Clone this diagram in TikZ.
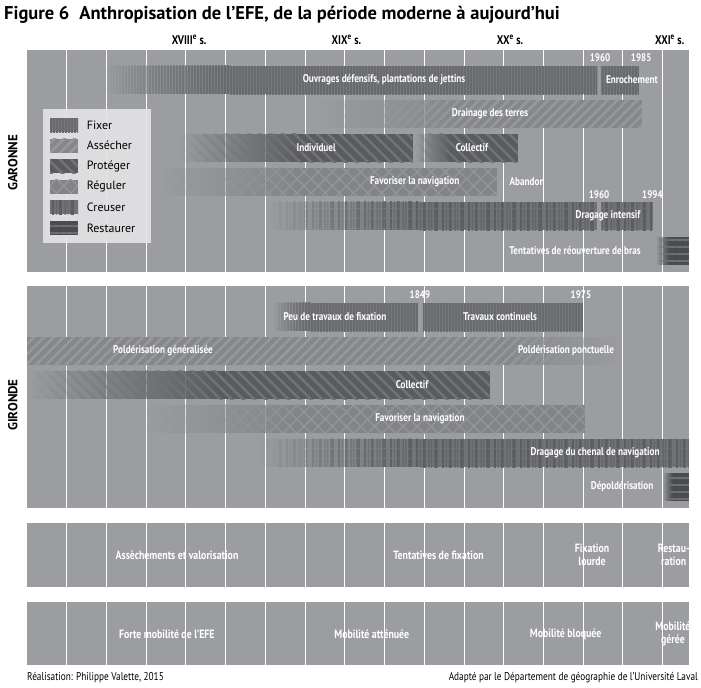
\documentclass[tikz,border=0pt]{standalone}
\usepackage{fontspec}
\setmainfont{PT Sans}[FakeStretch=0.82]
\newfontfamily\titlefont{PT Sans}
\newfontfamily\plainfont{PT Sans}
\usepackage{tikz}
\usepackage{xcolor}
\usetikzlibrary{patterns.meta,fadings,positioning}

\definecolor{panelgray}{HTML}{9C9DA1}
\definecolor{legendgray}{HTML}{E3E3E5}
\definecolor{fixbase}{HTML}{77787C}
\definecolor{fixline}{HTML}{696A6E}
\definecolor{drybase}{HTML}{86878B}
\definecolor{dryline}{HTML}{97989C}
\definecolor{protbase}{HTML}{5A5B5F}
\definecolor{protline}{HTML}{727377}
\definecolor{regbase}{HTML}{838488}
\definecolor{regline}{HTML}{95969A}
\definecolor{digbase}{HTML}{717276}
\definecolor{digline}{HTML}{5C5D61}
\definecolor{restbase}{HTML}{4B4C50}
\definecolor{restline}{HTML}{707175}

\tikzfading[name=fadein, left color=transparent!100, right color=transparent!0]
\tikzfading[name=fadeout, left color=transparent!0, right color=transparent!100]

\tikzdeclarepattern{
  name=dredge, type=uncolored,
  bottom left={(0pt,0pt)}, top right={(26pt,10pt)}, tile size={(26pt,10pt)},
  code={
    \fill (0pt,0pt) rectangle (2pt,10pt);
    \fill (4pt,0pt) rectangle (4.8pt,10pt);
    \fill (7pt,0pt) rectangle (10pt,10pt);
    \fill (13pt,0pt) rectangle (14pt,10pt);
    \fill (16pt,0pt) rectangle (16.6pt,10pt);
    \fill (19pt,0pt) rectangle (22.5pt,10pt);
  }
}

\tikzset{
  panel/.style={fill=panelgray},
  gridline/.style={white, line width=0.9pt},
  ground fixer/.style={fill=fixbase},
  hatch fixer/.style={pattern={Lines[angle=90,distance=3pt,line width=1.1pt]}, pattern color=fixline},
  ground dry/.style={fill=drybase},
  hatch dry/.style={pattern={Lines[angle=45,distance=7pt,line width=2.5pt]}, pattern color=dryline},
  ground protect/.style={fill=protbase},
  hatch protect/.style={pattern={Lines[angle=-45,distance=8pt,line width=2.5pt]}, pattern color=protline},
  ground regul/.style={fill=regbase},
  hatch regul/.style={pattern={Hatch[angle=45,distance=10pt,line width=1.3pt]}, pattern color=regline},
  ground dig/.style={fill=digbase},
  hatch dig/.style={pattern=dredge, pattern color=digline},
  ground rest/.style={fill=restbase},
  hatch rest/.style={pattern={Lines[angle=0,distance=7pt,line width=1.4pt]}, pattern color=restline},
  barlabel/.style={text=white, font=\fontsize{11.2}{12}\selectfont\bfseries, inner sep=0pt},
  yearlabel/.style={text=white, font=\fontsize{11}{12}\selectfont\bfseries, inner sep=0pt},
  phaselabel/.style={text=white, font=\fontsize{12}{13}\selectfont\bfseries, align=center, inner sep=0pt},
  century/.style={font=\fontsize{12.5}{13}\selectfont\bfseries, inner sep=0pt},
  river/.style={font=\plainfont\fontsize{13}{14}\selectfont\bfseries, rotate=90, inner sep=0pt},
  legendtext/.style={font=\plainfont\fontsize{12}{13}\selectfont, anchor=west, inner sep=0pt},
  credit/.style={font=\fontsize{11.3}{12}\selectfont, inner sep=0pt}
}

\newcommand{\fadebar}[4]{%
  \fill[ground #1, path fading=fadein] (#3,#2) rectangle (#4,#2+28);
  \fill[hatch #1, path fading=fadein] (#3,#2) rectangle (#4,#2+28);}
\newcommand{\solidbar}[4]{%
  \fill[ground #1] (#3,#2) rectangle (#4,#2+28);
  \fill[hatch #1] (#3,#2) rectangle (#4,#2+28);}
\newcommand{\fadeoutbar}[4]{%
  \fill[ground #1, path fading=fadeout] (#3,#2) rectangle (#4,#2+28);
  \fill[hatch #1, path fading=fadeout] (#3,#2) rectangle (#4,#2+28);}
\newcommand{\swatch}[2]{%
  \fill[ground #1] (1614.5,#2) rectangle (1632.1,#2+14);
  \fill[hatch #1] (1614.5,#2) rectangle (1632.1,#2+14);}

\begin{document}
\begin{tikzpicture}[x=1.589pt, y=-1pt, shift={(-1600,0)}]
  \useasboundingbox[fill=white] (1583,0) rectangle (2024.16,688);

  \node[anchor=west, inner sep=0pt, font=\titlefont\fontsize{18.5}{19}\selectfont\bfseries] (title) at (1585.5,15)
    {Figure 6\hspace{10pt}Anthropisation de l’EFE, de la période moderne à aujourd’hui};

  \foreach \yr/\txt in {1702/XVIII, 1801/XIX, 1904/XX, 2004.5/XXI}
    \node[century] (c\txt) at (\yr,40) {\txt\textsuperscript{e} s.};

  \foreach \top/\bot in {50/272, 286/508, 523/587, 602/665} {
    \fill[panel] (1600,\top) rectangle (2016.6,\bot);
    \foreach \yr in {1625,1650,...,2000}
      \draw[gridline] (\yr,\top) -- (\yr,\bot);
  }

  \node[river] (garonne) at (1591,163) {GARONNE};
  \node[river] (gironde) at (1591,405) {GIRONDE};

  % Garonne
  \fadebar{fixer}{66}{1649}{1728}
  \solidbar{fixer}{66}{1728}{1959}
  \solidbar{fixer}{66}{1961.2}{1985.1}
  \fadebar{dry}{100}{1784}{1872}
  \solidbar{dry}{100}{1872}{1987}
  \fadebar{protect}{134}{1696}{1772}
  \solidbar{protect}{134}{1772}{1843}
  \fadebar{protect}{134}{1844.5}{1866}
  \solidbar{protect}{134}{1866}{1909}
  \fadebar{regul}{168}{1684}{1772}
  \solidbar{regul}{168}{1772}{1896}
  \fadebar{dig}{202}{1751}{1847}
  \solidbar{dig}{202}{1847}{1959}
  \solidbar{dig}{202}{1961.2}{1994}
  \fadebar{rest}{237}{1995.8}{2004}
  \solidbar{rest}{237}{2004}{2016.6}

  \node[yearlabel] (g1960a) at (1960.6,58) {1960};
  \node[yearlabel] (g1985) at (1986.5,58) {1985};
  \node[barlabel] (gouvr) at (1824.7,80) {Ouvrages défensifs, plantations de jettins};
  \node[barlabel] (genroc) at (1980.7,80) {Enrochement};
  \node[barlabel] (gdrain) at (1891.4,114) {Drainage des terres};
  \node[barlabel] (gindiv) at (1782,148) {Individuel};
  \node[barlabel] (gcoll) at (1880,148) {Collectif};
  \node[barlabel] (gnavig) at (1844,182) {Favoriser la navigation};
  \node[barlabel] (gaband) at (1914.7,182) {Abandon};
  \node[yearlabel] (g1960b) at (1960,195) {1960};
  \node[yearlabel] (g1994) at (1993.6,195) {1994};
  \node[barlabel] (gdrag) at (1965.6,216) {Dragage intensif};
  \node[barlabel] (gtent) at (1944.9,251) {Tentatives de réouverture de bras};

  % Gironde
  \fadebar{fixer}{303}{1754.8}{1778}
  \solidbar{fixer}{303}{1778}{1846}
  \solidbar{fixer}{303}{1849.2}{1950}
  \solidbar{dry}{337}{1600}{1899.6}
  \fadeoutbar{dry}{337}{1899.6}{1973}
  \fadebar{protect}{371}{1600}{1721}
  \solidbar{protect}{371}{1721}{1891.4}
  \fadebar{regul}{405}{1674}{1772}
  \solidbar{regul}{405}{1772}{1951}
  \fadebar{dig}{439}{1746.6}{1847}
  \solidbar{dig}{439}{1847}{2016.6}
  \fadebar{rest}{473}{2000}{2006}
  \solidbar{rest}{473}{2006}{2016.6}

  \node[yearlabel] (d1849) at (1847.3,295) {1849};
  \node[yearlabel] (d1975) at (1948.6,295) {1975};
  \node[barlabel] (dpeu) at (1793.8,317) {Peu de travaux de fixation};
  \node[barlabel] (dcont) at (1897.7,317) {Travaux continuels};
  \node[barlabel] (dpoldg) at (1685.6,351) {Poldérisation généralisée};
  \node[barlabel] (dpoldp) at (1939.2,351) {Poldérisation ponctuelle};
  \node[barlabel] (dcoll) at (1842.3,385) {Collectif};
  \node[barlabel] (dnavig) at (1847.3,419) {Favoriser la navigation};
  \node[barlabel] (ddrag) at (1957.5,453) {Dragage du chenal de navigation};
  \node[barlabel] (ddepol) at (1974.5,487) {Dépoldérisation};

  % legend
  \fill[legendgray, opacity=0.92] (1610.1,109) rectangle (1678,243);
  \foreach \kind/\txt [count=\i from 0] in {fixer/Fixer, dry/Assécher, protect/Protéger, regul/Réguler, dig/Creuser, rest/Restaurer} {
    \swatch{\kind}{118+20.6*\i}
    \node[legendtext] (leg\i) at (1637.5,125+20.6*\i) {\txt};
  }

  % phases
  \node[phaselabel] (pasch) at (1694.4,555) {Assèchements et valorisation};
  \node[phaselabel] (ptent) at (1859,555) {Tentatives de fixation};
  \node[phaselabel] (plourd) at (1955.6,555) {Fixation\\lourde};
  \node[phaselabel] (prest) at (2007,555) {Restau-\\ration};
  \node[phaselabel] (mforte) at (1688,634) {Forte mobilité de l’EFE};
  \node[phaselabel] (matten) at (1817,634) {Mobilité atténuée};
  \node[phaselabel] (mbloq) at (1939,634) {Mobilité bloquée};
  \node[phaselabel] (mgere) at (2006.5,634) {Mobilité\\gérée};

  \node[credit, anchor=west] (maker) at (1600,678) {Réalisation: Philippe Valette, 2015};
  \node[credit, anchor=east] (source) at (2022.3,678) {Adapté par le Département de géographie de l’Université Laval};
\end{tikzpicture}
\end{document}
